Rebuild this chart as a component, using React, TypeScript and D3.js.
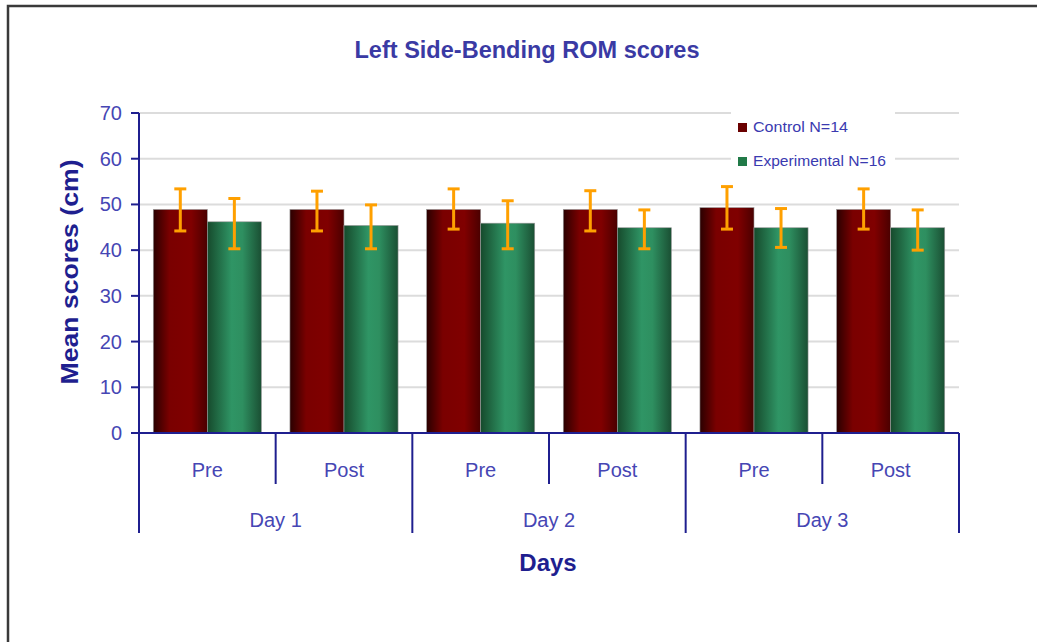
import React from "react";
import * as d3 from "d3";

const days = ["Day 1", "Day 2", "Day 3"];
const phases = ["Pre", "Post"];
const seriesNames = ["Control N=14", "Experimental N=16"];
// values per (day, phase) in order Day1 Pre, Day1 Post, Day2 Pre, ...
const controlMean = [48.9, 48.9, 48.9, 48.9, 49.3, 48.9];
const controlHigh = [53.4, 52.9, 53.4, 53.0, 53.9, 53.4];
const controlLow = [44.2, 44.2, 44.6, 44.2, 44.6, 44.6];
const expMean = [46.2, 45.4, 45.9, 44.9, 44.9, 44.9];
const expHigh = [51.3, 49.9, 50.8, 48.8, 49.1, 48.8];
const expLow = [40.3, 40.3, 40.3, 40.3, 40.6, 40.0];
const yTicks = [0, 10, 20, 30, 40, 50, 60, 70];

const W = 1037;
const H = 642;
const left = 139;
const right = 959;
const top = 113;
const bottom = 433;

export default function App() {
  const y = d3.scaleLinear().domain([0, 70]).range([bottom, top]);
  const xDay = d3.scaleBand<string>().domain(days).range([left, right]).padding(0);
  const xPhase = d3.scaleBand<string>().domain(phases).range([0, xDay.bandwidth()]).padding(0);
  const xSeries = d3
    .scaleBand<string>()
    .domain(seriesNames)
    .range([0, xPhase.bandwidth()])
    .paddingInner(0)
    .paddingOuter(0.264);

  const rows: any[] = [];
  days.forEach((d, di) => {
    phases.forEach((p, pi) => {
      const i = di * 2 + pi;
      rows.push({ d, p, s: seriesNames[0], mean: controlMean[i], hi: controlHigh[i], lo: controlLow[i], fill: "url(#gradControl)" });
      rows.push({ d, p, s: seriesNames[1], mean: expMean[i], hi: expHigh[i], lo: expLow[i], fill: "url(#gradExp)" });
    });
  });

  const font = "'Liberation Sans', Arial, sans-serif";
  const navy = "#1f1f8f";
  const tickColor = "#4646b4";

  return (
    <svg width={W} height={H} style={{ position: "absolute", left: 0, top: 0, background: "#fff" }}>
      <defs>
        <linearGradient id="gradControl" x1="0" x2="1" y1="0" y2="0">
          <stop offset="0" stopColor="#2a0000" />
          <stop offset="0.3" stopColor="#7a0000" />
          <stop offset="0.7" stopColor="#800000" />
          <stop offset="1" stopColor="#4a0000" />
        </linearGradient>
        <linearGradient id="gradExp" x1="0" x2="1" y1="0" y2="0">
          <stop offset="0" stopColor="#164a2c" />
          <stop offset="0.45" stopColor="#2f9565" />
          <stop offset="0.65" stopColor="#2e8f60" />
          <stop offset="1" stopColor="#1a4f33" />
        </linearGradient>
      </defs>
      <rect x={8} y={6} width={W + 10} height={H + 10} fill="#fff" stroke="#3a3a3a" strokeWidth={2.5} />

      <text x={527} y={58} textAnchor="middle" fontFamily={font} fontWeight="bold" fontSize={23} fill="#3a3aa4" textLength={345} lengthAdjust="spacingAndGlyphs">
        Left Side-Bending ROM scores
      </text>

      {/* gridlines */}
      {yTicks.filter((t) => t > 0).map((t) => (
        <line key={t} x1={left} x2={right} y1={y(t)} y2={y(t)} stroke="#dcdcdc" strokeWidth={2} />
      ))}

      {/* legend background */}
      <rect x={731} y={105} width={164} height={66} fill="#fff" />
      {seriesNames.map((s, i) => (
        <g key={s} transform={`translate(738, ${122 + i * 34})`}>
          <rect x={0} y={1} width={9} height={9} fill={i === 0 ? "#6a0000" : "#217a48"} />
          <text x={15} y={10} fontFamily={font} fontSize={14} fill="#3a3ab0" textLength={i === 0 ? 95 : 133} lengthAdjust="spacingAndGlyphs">
            {s}
          </text>
        </g>
      ))}

      {/* bars */}
      {rows.map((r, i) => {
        const x0 = (xDay(r.d) as number) + (xPhase(r.p) as number) + (xSeries(r.s) as number);
        const bw = xSeries.bandwidth();
        const cx = x0 + bw / 2;
        return (
          <g key={i}>
            <rect x={x0} y={y(r.mean)} width={bw} height={y(0) - y(r.mean)} fill={r.fill} stroke="#9a9a9a" strokeWidth={0.6} />
            <line x1={cx} x2={cx} y1={y(r.hi)} y2={y(r.lo)} stroke="#ffa000" strokeWidth={3} />
            <line x1={cx - 6} x2={cx + 6} y1={y(r.hi)} y2={y(r.hi)} stroke="#ffa000" strokeWidth={3} />
            <line x1={cx - 6} x2={cx + 6} y1={y(r.lo)} y2={y(r.lo)} stroke="#ffa000" strokeWidth={3} />
          </g>
        );
      })}

      {/* y axis */}
      <line x1={left} x2={left} y1={top} y2={bottom} stroke={navy} strokeWidth={2} />
      {yTicks.map((t) => (
        <g key={t}>
          <line x1={left - 8} x2={left} y1={y(t)} y2={y(t)} stroke={navy} strokeWidth={2} />
          <text x={122} y={y(t) + 7} textAnchor="end" fontFamily={font} fontSize={20} fill={tickColor}>
            {t}
          </text>
        </g>
      ))}
      <text
        transform={`translate(78, ${(top + bottom) / 2 - 1}) rotate(-90)`}
        textAnchor="middle"
        fontFamily={font}
        fontWeight="bold"
        fontSize={24}
        fill={navy}
        textLength={225}
        lengthAdjust="spacingAndGlyphs"
      >
        Mean scores (cm)
      </text>

      {/* x axis */}
      <line x1={left} x2={right} y1={bottom} y2={bottom} stroke={navy} strokeWidth={2} />
      {days.map((d) => {
        const dx = xDay(d) as number;
        return (
          <g key={d}>
            <line x1={dx} x2={dx} y1={bottom} y2={533} stroke={navy} strokeWidth={2} />
            {phases.map((p) => {
              const px = dx + (xPhase(p) as number);
              return (
                <g key={p}>
                  {p !== phases[0] && <line x1={px} x2={px} y1={bottom} y2={484} stroke={navy} strokeWidth={2} />}
                  <text x={px + xPhase.bandwidth() / 2} y={477} textAnchor="middle" fontFamily={font} fontSize={20} fill={tickColor}>
                    {p}
                  </text>
                </g>
              );
            })}
            <text x={dx + xDay.bandwidth() / 2} y={527} textAnchor="middle" fontFamily={font} fontSize={20} fill={tickColor}>
              {d}
            </text>
          </g>
        );
      })}
      <line x1={right} x2={right} y1={bottom} y2={533} stroke={navy} strokeWidth={2} />
      <text x={548} y={571} textAnchor="middle" fontFamily={font} fontWeight="bold" fontSize={24} fill={navy}>
        Days
      </text>
    </svg>
  );
}
